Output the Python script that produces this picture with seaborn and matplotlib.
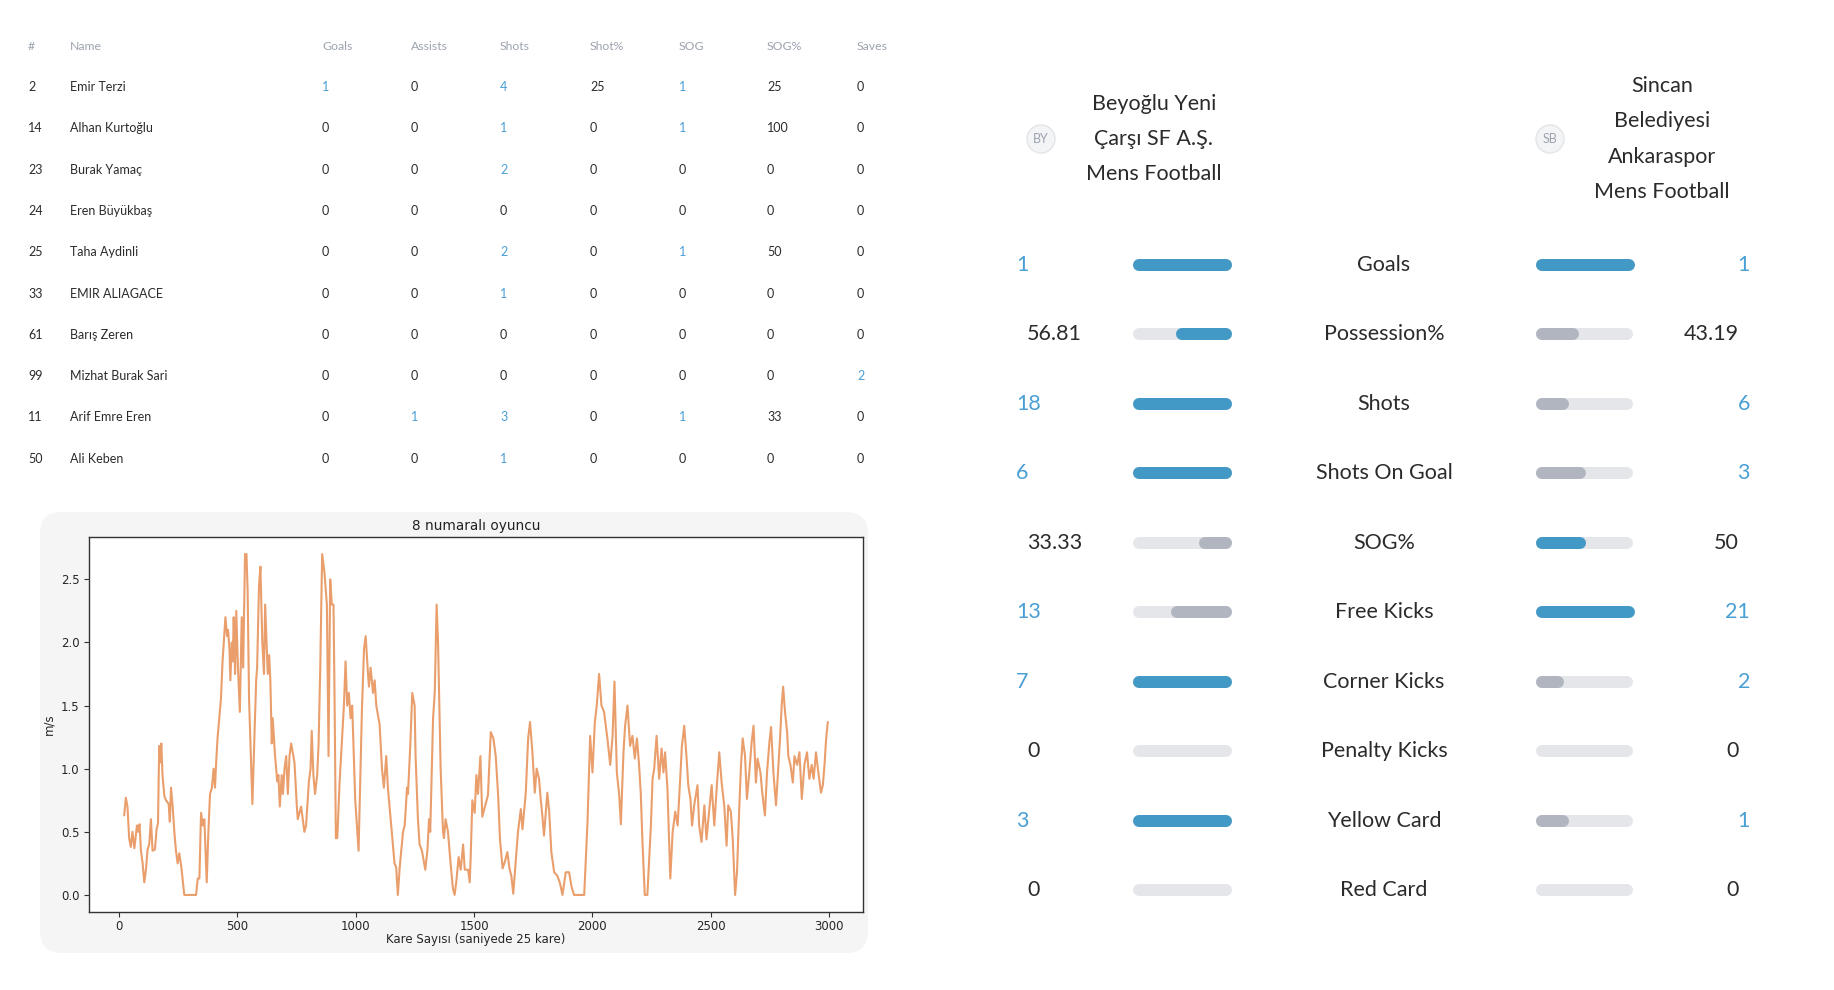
import matplotlib
matplotlib.use("Agg")
import matplotlib.pyplot as plt
from matplotlib.patches import FancyBboxPatch, Circle
import pandas as pd
import seaborn as sns

# Player table
shirt_numbers = [2, 14, 23, 24, 25, 33, 61, 99, 11, 50]
player_names = [
    "Emir Terzi", "Alhan Kurtoğlu", "Burak Yamaç", "Eren Büyükbaş",
    "Taha Aydinli", "EMIR ALIAGACE", "Barış Zeren", "Mizhat Burak Sari",
    "Arif Emre Eren", "Ali Keben",
]
goals = [1, 0, 0, 0, 0, 0, 0, 0, 0, 0]
assists = [0, 0, 0, 0, 0, 0, 0, 0, 1, 0]
shots = [4, 1, 2, 0, 2, 1, 0, 0, 3, 1]
shot_pct = [25, 0, 0, 0, 0, 0, 0, 0, 0, 0]
sog = [1, 1, 0, 0, 1, 0, 0, 0, 1, 0]
sog_pct = [25, 100, 0, 0, 50, 0, 0, 0, 33, 0]
saves = [0, 0, 0, 0, 0, 0, 0, 2, 0, 0]
table_headers = ["#", "Name", "Goals", "Assists", "Shots", "Shot%", "SOG", "SOG%", "Saves"]

# Team comparison
home_team = ["Beyoğlu Yeni", "Çarşı SF A.Ş.", "Mens Football"]
away_team = ["Sincan", "Belediyesi", "Ankaraspor", "Mens Football"]
home_badge = "BY"
away_badge = "SB"
stat_names = [
    "Goals", "Possession%", "Shots", "Shots On Goal", "SOG%",
    "Free Kicks", "Corner Kicks", "Penalty Kicks", "Yellow Card", "Red Card",
]
home_values = [1, 56.81, 18, 6, 33.33, 13, 7, 0, 3, 0]
away_values = [1, 43.19, 6, 3, 50, 21, 2, 0, 1, 0]

# Player 8 speed trace
frames = [
    21, 28, 35, 42, 49, 56, 64, 75, 80, 86, 92, 99, 106, 113, 120, 127, 134,
    141, 151, 158, 164, 169, 174, 178, 183, 191, 198, 209, 214, 219, 226, 233,
    240, 247, 254, 264, 275, 325, 332, 339, 346, 353, 360, 370, 377, 384, 392,
    399, 405, 409, 416, 430, 437, 449, 456, 460, 466, 470, 476, 480, 484, 490,
    495, 502, 510, 518, 524, 532, 538, 543, 549, 563, 579, 583, 591, 597, 605,
    612, 617, 628, 634, 639, 645, 649, 659, 668, 673, 679, 687, 692, 699, 706,
    713, 720, 727, 741, 751, 755, 769, 783, 790, 802, 809, 814, 821, 828, 837,
    843, 850, 858, 868, 878, 885, 892, 899, 906, 910, 916, 922, 932, 941, 950,
    957, 964, 971, 978, 985, 998, 1012, 1020, 1026, 1035, 1042, 1052, 1056,
    1063, 1073, 1080, 1087, 1101, 1111, 1119, 1129, 1136, 1150, 1164, 1171,
    1178, 1186, 1200, 1207, 1217, 1221, 1231, 1239, 1249, 1253, 1263, 1270,
    1280, 1294, 1303, 1310, 1315, 1327, 1334, 1342, 1348, 1359, 1369, 1373,
    1380, 1390, 1401, 1411, 1418, 1425, 1435, 1444, 1454, 1461, 1475, 1482,
    1486, 1493, 1503, 1510, 1517, 1527, 1535, 1559, 1571, 1582, 1592, 1602,
    1610, 1621, 1630, 1641, 1650, 1658, 1666, 1676, 1686, 1698, 1705, 1719,
    1729, 1737, 1747, 1757, 1765, 1775, 1782, 1789, 1796, 1810, 1818, 1827,
    1839, 1853, 1864, 1874, 1888, 1902, 1912, 1923, 1966, 1980, 1991, 2001,
    2011, 2019, 2029, 2039, 2050, 2064, 2076, 2086, 2094, 2104, 2114, 2121,
    2132, 2139, 2149, 2160, 2170, 2180, 2189, 2198, 2205, 2212, 2222, 2233,
    2248, 2255, 2262, 2272, 2283, 2293, 2301, 2308, 2318, 2330, 2340, 2351,
    2361, 2371, 2379, 2389, 2399, 2406, 2415, 2422, 2431, 2445, 2452, 2462,
    2474, 2483, 2495, 2505, 2516, 2527, 2537, 2547, 2558, 2568, 2575, 2586,
    2594, 2604, 2612, 2622, 2629, 2636, 2646, 2654, 2664, 2674, 2682, 2692,
    2699, 2711, 2720, 2730, 2739, 2749, 2756, 2766, 2777, 2787, 2794, 2801,
    2807, 2815, 2824, 2829, 2838, 2848, 2855, 2866, 2876, 2886, 2897, 2908,
    2918, 2928, 2936, 2946, 2956, 2967, 2975, 2982, 2989, 2996,
]
speed = [
    0.63, 0.77, 0.70, 0.45, 0.38, 0.50, 0.37, 0.55, 0.50, 0.56, 0.35, 0.25,
    0.10, 0.20, 0.36, 0.40, 0.60, 0.35, 0.36, 0.52, 0.57, 1.18, 1.05, 1.20,
    0.95, 0.78, 0.75, 0.72, 0.58, 0.85, 0.70, 0.50, 0.35, 0.25, 0.33, 0.20,
    0.00, 0.00, 0.13, 0.13, 0.65, 0.55, 0.60, 0.10, 0.50, 0.80, 0.85, 1.00,
    0.85, 1.02, 1.25, 1.55, 1.85, 2.20, 2.05, 2.10, 1.95, 1.70, 2.00, 1.85,
    2.20, 1.75, 2.25, 1.80, 1.45, 2.20, 1.80, 2.70, 2.70, 2.40, 1.55, 0.72,
    1.70, 1.80, 2.45, 2.60, 2.00, 1.75, 2.30, 1.75, 1.90, 1.70, 1.20, 1.40,
    1.10, 0.90, 0.95, 0.70, 0.95, 0.80, 1.00, 1.10, 0.80, 1.10, 1.20, 1.05,
    0.70, 0.60, 0.70, 0.50, 0.55, 0.90, 1.00, 1.30, 0.95, 0.80, 0.95, 1.20,
    1.80, 2.70, 2.55, 2.30, 1.10, 2.50, 2.30, 2.30, 1.65, 0.45, 0.45, 0.90,
    1.20, 1.50, 1.85, 1.50, 1.60, 1.40, 1.50, 0.75, 0.35, 1.00, 1.45, 1.95,
    2.05, 1.75, 1.65, 1.80, 1.60, 1.70, 1.50, 1.35, 1.00, 0.85, 1.10, 0.85,
    0.55, 0.25, 0.22, 0.00, 0.22, 0.50, 0.55, 0.85, 0.80, 1.20, 1.60, 1.50,
    1.10, 0.60, 0.40, 0.35, 0.20, 0.35, 0.60, 0.50, 1.40, 1.60, 2.30, 2.00,
    1.00, 0.50, 0.45, 0.60, 0.50, 0.25, 0.05, 0.00, 0.10, 0.30, 0.20, 0.40,
    0.20, 0.20, 0.10, 0.30, 0.75, 0.65, 0.95, 0.80, 1.10, 0.62, 0.79, 1.29,
    1.24, 1.10, 0.79, 0.44, 0.21, 0.26, 0.34, 0.21, 0.15, 0.01, 0.26, 0.50,
    0.68, 0.52, 0.81, 1.24, 1.37, 1.13, 0.81, 1.00, 0.92, 0.76, 0.63, 0.47,
    0.81, 0.66, 0.34, 0.18, 0.15, 0.09, 0.00, 0.18, 0.18, 0.07, 0.00, 0.00,
    0.58, 1.26, 0.97, 1.37, 1.50, 1.75, 1.50, 1.45, 1.24, 1.03, 1.26, 1.69,
    0.97, 0.79, 0.56, 1.13, 1.34, 1.50, 1.18, 1.26, 1.08, 1.24, 1.03, 0.81,
    0.44, 0.00, 0.00, 0.55, 0.92, 1.00, 1.26, 0.92, 1.16, 0.97, 1.13, 0.84,
    0.13, 0.50, 0.66, 0.55, 0.89, 1.18, 1.34, 1.08, 0.87, 0.76, 0.55, 0.71,
    0.87, 0.55, 0.42, 0.71, 0.44, 0.68, 0.87, 0.55, 0.87, 1.13, 0.89, 0.71,
    0.39, 0.71, 0.66, 0.44, 0.00, 0.18, 0.71, 1.03, 1.24, 1.10, 0.76, 0.97,
    1.21, 1.34, 0.89, 1.08, 0.97, 0.79, 0.63, 0.97, 1.21, 1.33, 0.97, 0.71,
    1.03, 1.24, 1.50, 1.65, 1.45, 1.29, 1.10, 1.03, 0.89, 1.10, 1.03, 1.13,
    0.76, 1.03, 1.13, 0.92, 1.03, 0.92, 1.13, 0.97, 0.81, 0.87, 1.03, 1.24,
    1.37,
]

BLUE = "#4299c6"
BLUE_TEXT = "#4a9fd4"
GRAY_FILL = "#b0b5bf"
TRACK = "#e5e6ea"
DARK = "#2b2b2b"
HEADER_GRAY = "#9ca3af"
LINE_COLOR = "#e99e6c"

sns.set_style("ticks")
plt.rcParams["font.family"] = ["DejaVu Sans"]
UI_FONT = ["Lato", "DejaVu Sans"]

fig = plt.figure(figsize=(18.34, 9.9), dpi=100)

# full-figure canvas in pixel units for the table and the comparison panel
canvas = fig.add_axes([0, 0, 1, 1])
canvas.set_xlim(0, 1834)
canvas.set_ylim(990, 0)
canvas.axis("off")

# ---- player table ----
col_x = [28, 70, 322, 411, 500, 590, 679, 767, 857]
header_y = 47
row_y0 = 87
row_dy = 41.3

for x, h in zip(col_x, table_headers):
    canvas.text(x, header_y, h, fontsize=8.8, color=HEADER_GRAY,
                va="center", ha="left", family=UI_FONT)

columns = [goals, assists, shots, shot_pct, sog, sog_pct, saves]
blue_cols = [True, True, True, False, True, False, True]

for i in range(len(player_names)):
    y = row_y0 + i * row_dy
    canvas.text(col_x[0], y, str(shirt_numbers[i]), fontsize=9, color=DARK,
                va="center", family=UI_FONT)
    canvas.text(col_x[1], y, player_names[i], fontsize=9, color=DARK,
                va="center", family=UI_FONT)
    for j, col in enumerate(columns):
        v = col[i]
        c = BLUE_TEXT if (blue_cols[j] and v > 0) else DARK
        canvas.text(col_x[j + 2], y, str(v), fontsize=9, color=c,
                    va="center", family=UI_FONT)

# ---- team comparison ----
canvas.text(1154, 139, "\n".join(home_team), fontsize=15.5, color=DARK,
            ha="center", va="center", linespacing=1.95, family=UI_FONT)
canvas.text(1662, 139, "\n".join(away_team), fontsize=15.5, color=DARK,
            ha="center", va="center", linespacing=1.95, family=UI_FONT)

for cx, label in [(1041, home_badge), (1550, away_badge)]:
    canvas.add_patch(Circle((cx, 139), 14, facecolor="#f3f4f6",
                            edgecolor="#e3e5e8", lw=1))
    canvas.text(cx, 139, label, fontsize=9, color=HEADER_GRAY,
                ha="center", va="center", family=UI_FONT)

stat_y0 = 265
stat_dy = 69.44
left_track = (1133, 1232)
right_track = (1536, 1633)
bar_h = 12
cap = bar_h / 2
bar_lw = bar_h * 72 / 100


def pill(x0, x1, y, color):
    canvas.plot([x0 + cap, x1 - cap], [y, y], color=color, lw=bar_lw,
                solid_capstyle="round", zorder=3)


for i, name in enumerate(stat_names):
    y = stat_y0 + i * stat_dy
    h, a = home_values[i], away_values[i]
    is_pct = name.endswith("%")

    canvas.text(1384, y, name, fontsize=15.5, color=DARK, ha="center",
                va="center", family=UI_FONT)

    if is_pct:
        hf, af = h / 100, a / 100
    else:
        m = max(h, a)
        hf = h / m if m > 0 else 0
        af = a / m if m > 0 else 0

    # tracks
    pill(*left_track, y, TRACK)
    pill(*right_track, y, TRACK)
    width = left_track[1] - left_track[0]
    if hf > 0:
        pill(left_track[1] - hf * width, left_track[1], y,
             BLUE if h >= a else GRAY_FILL)
    if af > 0:
        pill(right_track[0], right_track[0] + af * width, y,
             BLUE if a >= h else GRAY_FILL)

    for v, side in [(h, "left"), (a, "right")]:
        blue = (not is_pct) and v > 0
        label = f"{v:g}"
        if side == "left":
            canvas.text(1016 if blue else 1027, y, label, fontsize=15.5,
                        color=BLUE_TEXT if blue else DARK, ha="left",
                        va="center", family=UI_FONT)
        else:
            canvas.text(1750 if blue else 1739, y, label, fontsize=15.5,
                        color=BLUE_TEXT if blue else DARK, ha="right",
                        va="center", family=UI_FONT)

# ---- speed chart ----
canvas.add_patch(FancyBboxPatch((40, 512), 828, 441,
                                boxstyle="round,pad=0,rounding_size=22",
                                facecolor="#f5f5f5", edgecolor="none",
                                zorder=0))

ax = fig.add_axes([89 / 1834, (990 - 912) / 990, 774 / 1834, 375 / 990])
ax.set_facecolor("white")

speed_df = pd.DataFrame({"frame": frames, "speed": speed})
sns.lineplot(data=speed_df, x="frame", y="speed", ax=ax, color=LINE_COLOR,
             lw=1.5, estimator=None)

ax.set_xticks(range(0, 3001, 500))
ax.set_title("8 numaralı oyuncu", fontsize=9.8, color="#222222", pad=5)
ax.set_xlabel("Kare Sayısı (saniyede 25 kare)", fontsize=8.5, labelpad=0)
ax.set_ylabel("m/s", fontsize=8.5)
ax.tick_params(labelsize=8.5, length=3.5, width=0.8, color="#333333")
ax.tick_params(axis="x", pad=2.5)
for s in ax.spines.values():
    s.set_color("#333333")
    s.set_linewidth(1.0)

fig.savefig("out.png", dpi=100)
plt.close(fig)
